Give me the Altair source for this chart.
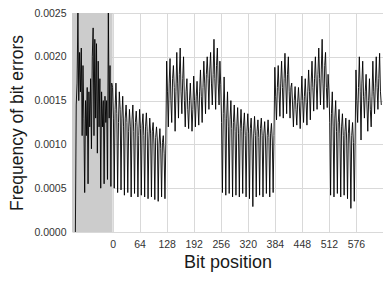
import altair as alt
import pandas as pd

# Frequency of bit errors (units of 1e-5), one list per block, sampled every 2 bits
seg_starts = [-88, 0, 128, 256, 384, 512, 576]
seg_gray = [0, 145, 170, 250, 150, 205, 160, 210, 110, 190, 130, 45, 150, 110, 165, 55, 160, 120, 175, 95,
            200, 233, 110, 220, 130, 215, 90, 195, 120, 175, 50, 160, 120, 150, 55, 155, 125, 150, 60, 250,
            130, 190, 52, 170]
seg_0 = [165, 130, 50, 140, 170, 135, 45, 125, 160, 140, 48, 130, 155, 120, 42, 130,
         145, 125, 45, 115, 140, 120, 40, 128, 145, 115, 44, 125, 138, 120, 40, 110,
         140, 118, 42, 122, 135, 110, 40, 120, 136, 115, 38, 105, 130, 112, 40, 115,
         125, 100, 37, 108, 120, 105, 35, 100, 118, 95, 40, 102, 110, 90, 38, 100]
seg_128 = [195, 160, 120, 170, 198, 150, 125, 175, 190, 165, 115, 160, 205, 170, 130, 180,
           210, 160, 135, 175, 200, 150, 120, 160, 175, 140, 118, 150, 170, 145, 115, 140,
           178, 150, 120, 155, 172, 145, 122, 160, 185, 155, 125, 165, 195, 170, 135, 180,
           200, 175, 140, 185, 205, 170, 145, 180, 220, 175, 140, 190, 210, 170, 145, 195]
seg_256 = [168, 125, 45, 135, 177, 130, 42, 130, 160, 120, 44, 128, 150, 118, 40, 125,
           145, 115, 42, 120, 142, 112, 40, 118, 140, 115, 44, 122, 136, 110, 40, 115,
           135, 112, 38, 118, 130, 105, 29, 112, 132, 110, 40, 115, 128, 108, 42, 118,
           130, 110, 40, 112, 126, 105, 44, 110, 128, 108, 40, 112, 124, 105, 45, 110]
seg_384 = [188, 155, 128, 165, 190, 160, 132, 170, 195, 165, 130, 175, 204, 170, 135, 180,
           200, 160, 130, 165, 170, 145, 120, 150, 166, 140, 122, 148, 165, 145, 118, 150,
           178, 150, 125, 155, 175, 148, 122, 160, 185, 160, 128, 170, 195, 165, 138, 175,
           200, 170, 140, 180, 210, 175, 145, 185, 220, 170, 140, 190, 205, 165, 142, 180]
seg_512 = [162, 125, 42, 135, 160, 120, 40, 130, 150, 115, 44, 125, 140, 112, 40, 120,
           135, 110, 42, 115, 130, 105, 38, 112, 128, 100, 27, 110, 125, 102, 35, 105]
seg_576 = [185, 150, 125, 165, 200, 160, 105, 170, 195, 155, 130, 160, 180, 145, 115, 150,
           175, 140, 120, 155, 195, 160, 135, 170, 200, 165, 140, 175, 204, 160, 145]
segments = [seg_gray, seg_0, seg_128, seg_256, seg_384, seg_512, seg_576]

x_ticks = [0, 64, 128, 192, 256, 320, 384, 448, 512, 576, 640]
y_ticks = [0.0, 0.0005, 0.0010, 0.0015, 0.0020, 0.0025]
shade_start = [-96]
shade_end = [0]

rows = []
for start, vals in zip(seg_starts, segments):
    for i, v in enumerate(vals):
        rows.append({"bit": start + 2 * i, "freq": v * 1e-5})
df = pd.DataFrame(rows)
shade = pd.DataFrame({"x": shade_start, "x2": shade_end})

FONT = "Liberation Sans"
xscale = alt.Scale(domain=[-96, 640], nice=False, zero=False)
yscale = alt.Scale(domain=[0, 0.0025], nice=False)

xaxis = alt.Axis(values=x_ticks, title="Bit position", grid=True, gridColor="#d9d9d9", gridWidth=1,
                 domain=False, ticks=False, labelFont=FONT, labelFontSize=10.5, labelColor="#333333",
                 labelPadding=7, labelExpr="datum.value == 640 ? '' : datum.label",
                 titleFont=FONT, titleFontSize=18, titleFontWeight="normal", titleColor="#1a1a1a",
                 titlePadding=4)
yaxis = alt.Axis(values=y_ticks, format=".4f", title="Frequency of bit errors", grid=True,
                 gridColor="#d9d9d9", gridWidth=1, domain=False, ticks=False, labelFont=FONT,
                 labelFontSize=10.5, labelColor="#333333", labelPadding=6, titleFont=FONT,
                 titleFontSize=17.5, titleFontWeight="normal", titleColor="#1a1a1a", titlePadding=7)

rect = alt.Chart(shade).mark_rect(color="#cccccc").encode(
    x=alt.X("x:Q", scale=xscale, axis=xaxis),
    x2="x2:Q",
    y=alt.value(0),
    y2=alt.value(219),
)

line = alt.Chart(df).mark_line(color="black", strokeWidth=0.9, clip=True).encode(
    x=alt.X("bit:Q", scale=xscale, axis=xaxis),
    y=alt.Y("freq:Q", scale=yscale, axis=yaxis),
)

chart = alt.layer(rect, line).properties(
    width=311, height=219,
    autosize=alt.AutoSizeParams(type="none"),
    padding={"left": 64, "top": 5, "right": 0, "bottom": 40},
).configure_view(stroke=None)

chart.save("out.html", embed_options={"renderer": "svg", "actions": False})
